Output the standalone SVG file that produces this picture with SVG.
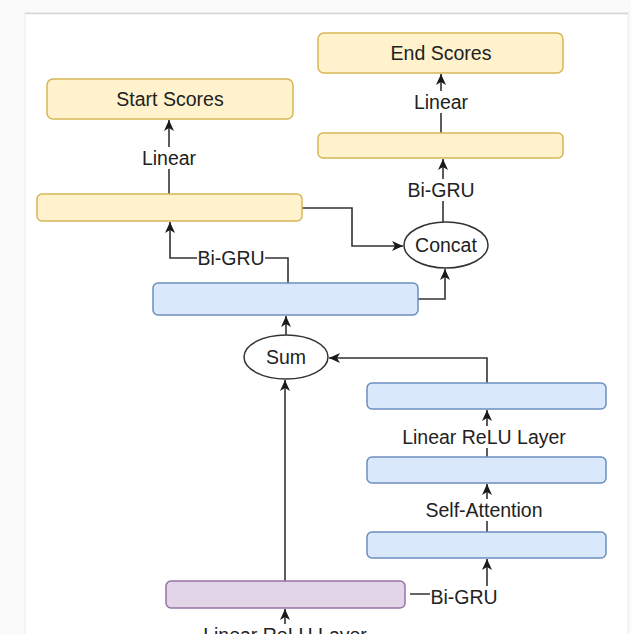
<svg xmlns="http://www.w3.org/2000/svg" width="631" height="634" viewBox="0 0 631 634">
  <style>
    .yellow { fill: #fff2cc; stroke: #d6b656; stroke-width: 1.5; }
    .blue { fill: #dae8fc; stroke: #6c8ebf; stroke-width: 1.5; }
    .purple { fill: #e1d5e7; stroke: #9673a6; stroke-width: 1.5; }
    .op { fill: #ffffff; stroke: #333333; stroke-width: 1.5; }
    .edge { fill: none; stroke: #333333; stroke-width: 1.6; }
    .arrow { marker-end: url(#tip); }
    .lbl-bg { fill: #ffffff; }
    text { font-family: "Liberation Sans", Arial, Helvetica, sans-serif; font-size: 19.5px; fill: #222222; text-anchor: middle; dominant-baseline: central; }
  </style>
  <defs>
    <marker id="tip" viewBox="0 0 11 10" refX="11" refY="5" markerWidth="11" markerHeight="10" markerUnits="userSpaceOnUse" orient="auto">
      <path d="M0,0 L11,5 L0,10 L3,5 Z" fill="#1a1a1a"/>
    </marker>
  </defs>

  <!-- page and canvas -->
  <rect x="0" y="0" width="631" height="634" fill="#fafafa"/>
  <rect x="25" y="13" width="603" height="640" fill="#ffffff" stroke="#ececec" stroke-width="1"/>
  <line x1="25" y1="13.5" x2="628" y2="13.5" stroke="#d4d4d4" stroke-width="1.5"/>

  <!-- connectors -->
  <g id="connectors">
    <path class="edge arrow" d="M169,194 V120"/>
    <path class="edge arrow" d="M441,133 V74"/>
    <path class="edge arrow" d="M443,222 V159"/>
    <path class="edge arrow" d="M302,208 H352 V246 H403"/>
    <path class="edge arrow" d="M288,283 V258 H170 V222"/>
    <path class="edge arrow" d="M418,299 H445 V269"/>
    <path class="edge arrow" d="M286,335 V316"/>
    <path class="edge arrow" d="M487,383 V358 H329"/>
    <path class="edge arrow" d="M487,457 V410"/>
    <path class="edge arrow" d="M487,532 V484"/>
    <path class="edge arrow" d="M410,594 H487 V559"/>
    <path class="edge arrow" d="M285,581 V380"/>
    <path class="edge arrow" d="M285,645 V609"/>

    <!-- edge labels -->
    <rect class="lbl-bg" x="140" y="147" width="58" height="22"/>
    <text x="169" y="158">Linear</text>
    <rect class="lbl-bg" x="412" y="91" width="58" height="22"/>
    <text x="441" y="102">Linear</text>
    <rect class="lbl-bg" x="406" y="179" width="70" height="22"/>
    <text x="441" y="190">Bi-GRU</text>
    <rect class="lbl-bg" x="197" y="247" width="68" height="22"/>
    <text x="231" y="258">Bi-GRU</text>
    <rect class="lbl-bg" x="399" y="426" width="172" height="22"/>
    <text x="484" y="437">Linear ReLU Layer</text>
    <rect class="lbl-bg" x="419" y="499" width="130" height="22"/>
    <text x="484" y="510">Self-Attention</text>
    <rect class="lbl-bg" x="430" y="586" width="68" height="22"/>
    <text x="464" y="597">Bi-GRU</text>
    <rect class="lbl-bg" x="199" y="624" width="172" height="22"/>
    <text x="285" y="635">Linear ReLU Layer</text>
  </g>

  <!-- nodes -->
  <g id="start-scores">
    <rect class="yellow" x="47" y="79" width="246" height="40" rx="6"/>
    <text x="170" y="99">Start Scores</text>
  </g>
  <g id="start-state">
    <rect class="yellow" x="37" y="194" width="265" height="27" rx="5"/>
  </g>
  <g id="end-scores">
    <rect class="yellow" x="318" y="33" width="245" height="40" rx="6"/>
    <text x="441" y="53">End Scores</text>
  </g>
  <g id="end-state">
    <rect class="yellow" x="318" y="133" width="245" height="25" rx="5"/>
  </g>
  <g id="concat">
    <ellipse class="op" cx="446" cy="245" rx="42" ry="23"/>
    <text x="446" y="245">Concat</text>
  </g>
  <g id="merged-state">
    <rect class="blue" x="153" y="283" width="265" height="32" rx="5"/>
  </g>
  <g id="sum">
    <ellipse class="op" cx="286" cy="357" rx="42" ry="22"/>
    <text x="286" y="357">Sum</text>
  </g>
  <g id="relu-out">
    <rect class="blue" x="367" y="383" width="239" height="26" rx="5"/>
  </g>
  <g id="attention-out">
    <rect class="blue" x="367" y="457" width="239" height="26" rx="5"/>
  </g>
  <g id="gru-out">
    <rect class="blue" x="367" y="532" width="239" height="26" rx="5"/>
  </g>
  <g id="input-state">
    <rect class="purple" x="166" y="581" width="239" height="27" rx="5"/>
  </g>
</svg>
